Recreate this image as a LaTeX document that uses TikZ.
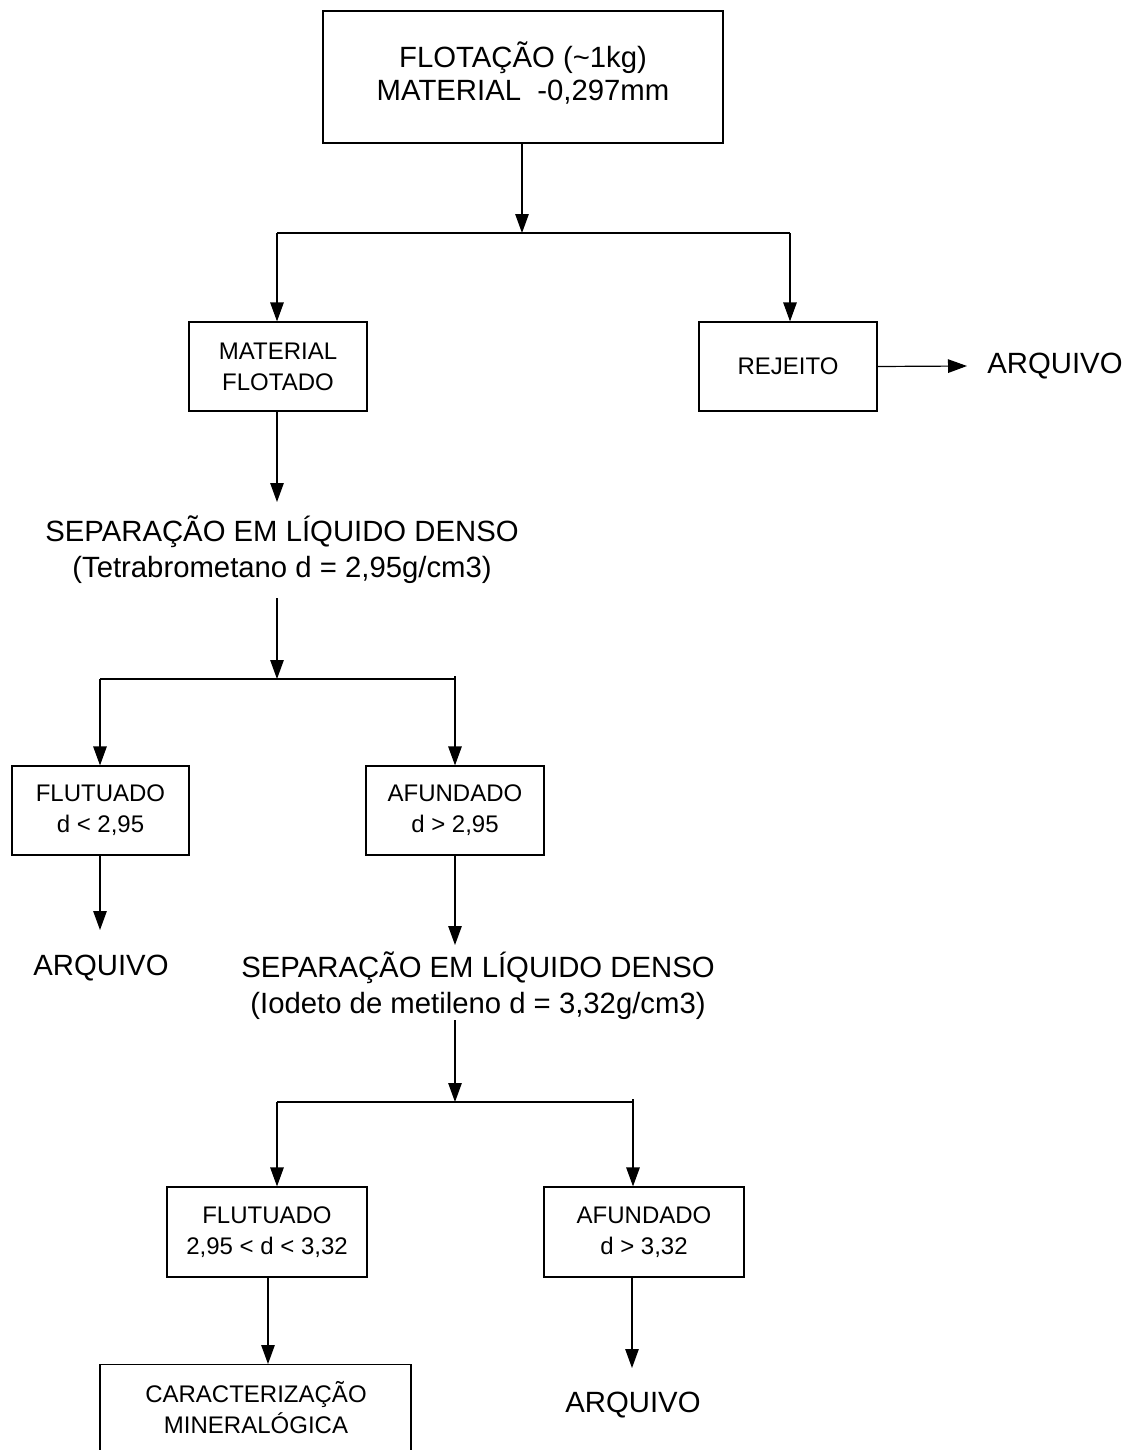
\documentclass[tikz,border=0pt]{standalone}
\usepackage{fontspec}
\setmainfont{Liberation Sans}
\usetikzlibrary{arrows.meta}
\begin{document}
\begin{tikzpicture}[x=1pt,y=-1pt,
  line width=1.2pt,
  box/.style={draw, line width=1.2pt, inner sep=0pt, align=center},
  bigtxt/.style={font=\fontsize{29.3}{33}\selectfont, align=center, inner sep=0pt},
  smalltxt/.style={font=\fontsize{24}{31}\selectfont, align=center, inner sep=0pt},
  arr/.style={-{Triangle[length=19pt,width=13.5pt]}, line width=1.2pt}]
\useasboundingbox (0,0) rectangle (1131,1450);
\clip (0,0) rectangle (1131,1450);

% top box
\node[box, minimum width=400pt, minimum height=132pt] (top) at (523,77) {};
\node[bigtxt] (toptxt) at (523,73) {FLOTAÇÃO (\textasciitilde1kg)\\MATERIAL\ \ -0,297mm};
\coordinate (b1m) at (522,233);
\coordinate (b1l) at (277,233);
\coordinate (b1r) at (790,233);
\draw[arr] (top.south -| b1m) -- (b1m);
\draw (b1l) -- (b1r);

% level 1
\node[box, smalltxt, minimum width=178pt, minimum height=89pt] (mf) at (278,366.5) {MATERIAL\\FLOTADO};
\node[box, smalltxt, minimum width=178pt, minimum height=89pt] (rej) at (788,366.5) {REJEITO};
\draw[arr] (b1l) -- (b1l |- mf.north);
\draw[arr] (b1r) -- (b1r |- rej.north);
\node[bigtxt] (arq1) at (1055,366) {ARQUIVO};
\coordinate (arq1in) at (967,366);
\draw[arr] (rej.east) -- (arq1in);

% separation 1
\node[bigtxt, font=\fontsize{29.3}{36}\selectfont] (sep1) at (282,550)
  {SEPARAÇÃO EM LÍQUIDO DENSO\\(Tetrabrometano d = 2,95g/cm3)};
\coordinate (sep1in) at (277,502);
\coordinate (sep1out) at (277,598);
\draw[arr] (mf.south -| sep1in) -- (sep1in);
\coordinate (b2m) at (277,679);
\coordinate (b2l) at (100,679);
\coordinate (b2r) at (455,679);
\draw[arr] (sep1out) -- (b2m);
\draw (b2l) -- (b2r);

% level 2
\node[box, smalltxt, minimum width=177pt, minimum height=89pt] (flu1) at (100.5,810.5) {FLUTUADO\\d < 2,95};
\node[box, smalltxt, minimum width=178pt, minimum height=89pt] (afu1) at (455,810.5) {AFUNDADO\\d > 2,95};
\draw[arr] (b2l) -- (b2l |- flu1.north);
\draw[arr] (455,676) -- (b2r |- afu1.north);
\node[bigtxt] (arq2) at (101,968) {ARQUIVO};
\coordinate (arq2in) at (100,930);
\draw[arr] (flu1.south -| arq2in) -- (arq2in);

% separation 2
\node[bigtxt, font=\fontsize{29.3}{36}\selectfont] (sep2) at (478,986)
  {SEPARAÇÃO EM LÍQUIDO DENSO\\(Iodeto de metileno d = 3,32g/cm3)};
\coordinate (sep2in) at (455,945);
\coordinate (sep2out) at (455,1020);
\draw[arr] (afu1.south) -- (sep2in);
\coordinate (b3m) at (455,1102);
\coordinate (b3l) at (277,1102);
\coordinate (b3r) at (633,1102);
\draw[arr] (sep2out) -- (b3m);
\draw (b3l) -- (b3r);

% level 3
\node[box, smalltxt, minimum width=200pt, minimum height=90pt] (flu2) at (267,1232) {FLUTUADO\\2,95 < d < 3,32};
\node[box, smalltxt, minimum width=200pt, minimum height=90pt] (afu2) at (644,1232) {AFUNDADO\\d > 3,32};
\draw[arr] (b3l) -- (b3l |- flu2.north);
\draw[arr] (633,1099) -- (b3r |- afu2.north);

% bottom
\node[box, anchor=north, minimum width=311pt, minimum height=130pt] (car) at (255.5,1364) {};
\node[smalltxt] (cartxt) at (256,1407.5) {CARACTERIZAÇÃO\\MINERALÓGICA};
\draw[arr] (flu2.south -| 268,0) -- (car.north -| 268,0);
\node[bigtxt] (arq3) at (633,1405) {ARQUIVO};
\coordinate (arq3in) at (632,1368);
\draw[arr] (afu2.south -| arq3in) -- (arq3in);
\end{tikzpicture}
\end{document}
